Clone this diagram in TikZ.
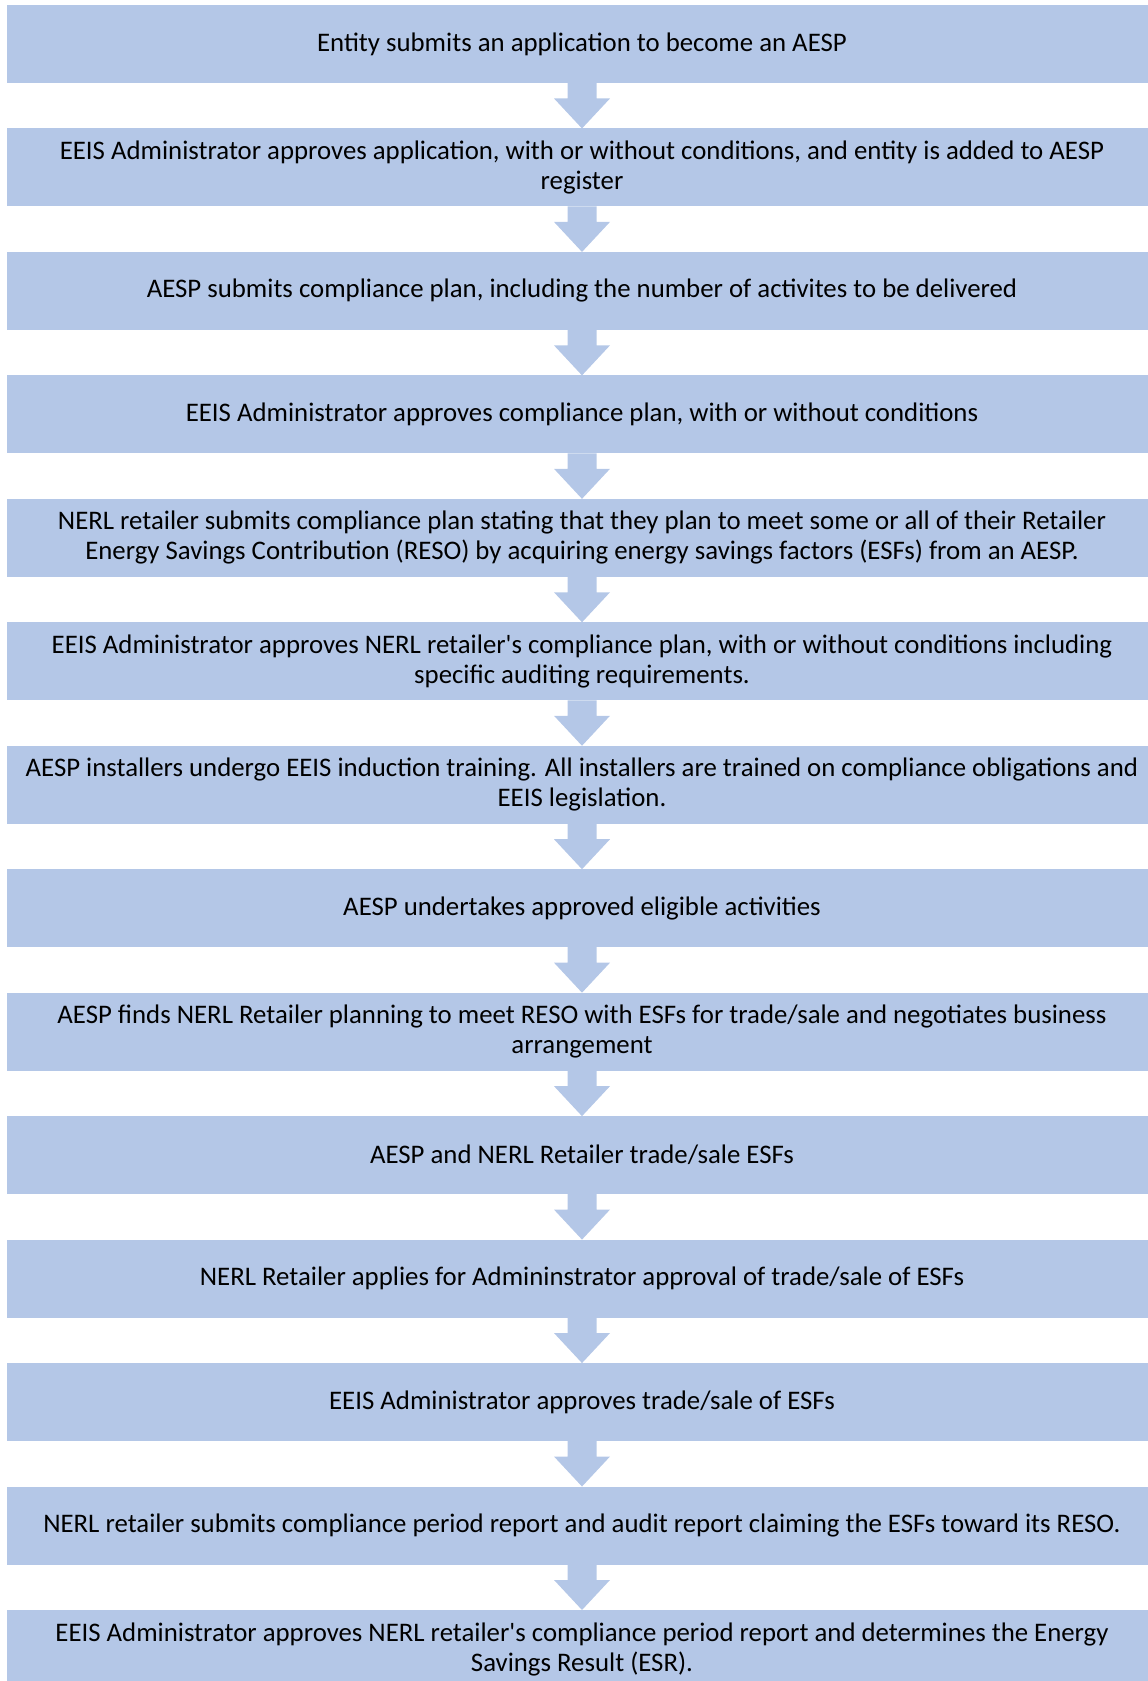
\documentclass[tikz,border=0pt]{standalone}
\usepackage{fontspec}
\setmainfont{Carlito}
\usepackage{tikz}
\usetikzlibrary{positioning, calc}
\definecolor{stepblue}{RGB}{180, 199, 231}

\begin{document}
\begin{tikzpicture}[
    stepbox/.style={fill=stepblue, minimum width=575pt, minimum height=39pt,
      inner sep=0pt, outer sep=0pt, align=center, font=\fontsize{13.4}{15}\selectfont},
    node distance=22.73pt
  ]
    \useasboundingbox (0,0) rectangle (573.5pt,-840.5pt);
    \node[stepbox] (s1) at (291pt,-22pt) {Entity submits an application to become an AESP};
    \node[stepbox, below=of s1] (s2) {EEIS Administrator approves application, with or without conditions, and entity is added to AESP\\register};
    \node[stepbox, below=of s2] (s3) {AESP submits compliance plan, including the number of activites to be delivered};
    \node[stepbox, below=of s3] (s4) {EEIS Administrator approves compliance plan, with or without conditions};
    \node[stepbox, below=of s4] (s5) {NERL retailer submits compliance plan stating that they plan to meet some or all of their Retailer\\Energy Savings Contribution (RESO) by acquiring energy savings factors (ESFs) from an AESP.};
    \node[stepbox, below=of s5] (s6) {EEIS Administrator approves NERL retailer\textquotesingle s compliance plan, with or without conditions including\\specific auditing requirements.};
    \node[stepbox, below=of s6] (s7) {AESP installers undergo EEIS induction training. All installers are trained on compliance obligations and\\EEIS legislation.};
    \node[stepbox, below=of s7] (s8) {AESP undertakes approved eligible activities};
    \node[stepbox, below=of s8] (s9) {AESP finds NERL Retailer planning to meet RESO with ESFs for trade/sale and negotiates business\\arrangement};
    \node[stepbox, below=of s9] (s10) {AESP and NERL Retailer trade/sale ESFs};
    \node[stepbox, below=of s10] (s11) {NERL Retailer applies for Admininstrator approval of trade/sale of ESFs};
    \node[stepbox, below=of s11] (s12) {EEIS Administrator approves trade/sale of ESFs};
    \node[stepbox, below=of s12] (s13) {NERL retailer submits compliance period report and audit report claiming the ESFs toward its RESO.};
    \node[stepbox, below=of s13] (s14) {EEIS Administrator approves NERL retailer\textquotesingle s compliance period report and determines the Energy\\Savings Result (ESR).};
    % block arrows between the steps
    \foreach \i [evaluate=\i as \j using int(\i+1)] in {1,...,13} {
      \fill[stepblue] ([xshift=-7.25pt]s\i.south) -- ([xshift=-7.25pt,yshift=15pt]s\j.north)
        -- ([xshift=-14pt,yshift=15pt]s\j.north) -- (s\j.north)
        -- ([xshift=14pt,yshift=15pt]s\j.north) -- ([xshift=7.25pt,yshift=15pt]s\j.north)
        -- ([xshift=7.25pt]s\i.south) -- cycle;
    }
\end{tikzpicture}
\end{document}
